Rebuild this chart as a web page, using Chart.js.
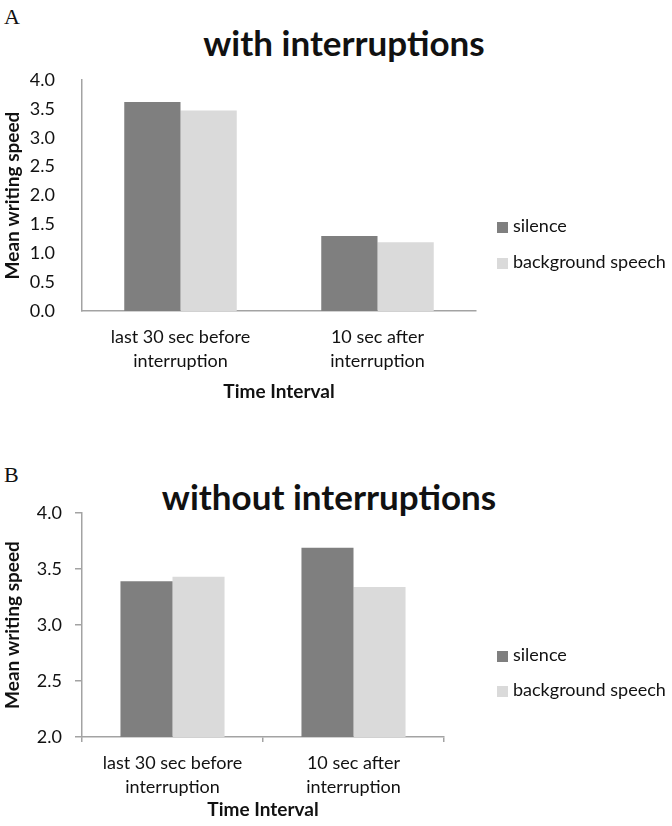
<!DOCTYPE html>
<html>
<head>
<meta charset="utf-8">
<script src="https://cdn.jsdelivr.net/npm/chart.js@4.4.1/dist/chart.umd.min.js"></script>
<style>
  html, body { margin: 0; padding: 0; background: #fff; }
  body { width: 672px; height: 826px; position: relative; overflow: hidden; font-family: Lato, sans-serif; color: #111; }
  .panel { position: absolute; left: 0; width: 672px; }
  .letter { position: absolute; left: 4px; font-family: 'Liberation Serif', serif; font-size: 22px; line-height: 1; }
  .title { position: absolute; font-weight: bold; font-size: 35px; line-height: 1; white-space: nowrap; transform: translateX(-50%); }
  .legend { position: absolute; left: 497px; font-size: 18px; color: #111; }
  .legend div { position: absolute; white-space: nowrap; line-height: 1; }
  .legend span { display: inline-block; width: 11px; height: 11px; margin-right: 5px; vertical-align: -1px; }
</style>
</head>
<body>
<div class="letter" style="top:6px;">A</div>
<div class="title" style="left:344px; top:25px;">with interruptions</div>
<div class="panel" style="top:0; height:405px;"><canvas id="chartA"></canvas></div>
<div class="legend" id="legendA" style="top:216px;"></div>

<div class="letter" style="top:464px;">B</div>
<div class="title" style="left:329px; top:479px;">without interruptions</div>
<div class="panel" style="top:405px; height:421px;"><canvas id="chartB"></canvas></div>
<div class="legend" id="legendB" style="top:645px;"></div>

<script>
/* ─── Data ───────────────────────────────────────────────── */
const CATEGORIES   = [['last 30 sec before', 'interruption'], ['10 sec after', 'interruption']];
const SERIES_NAMES = ['silence', 'background speech'];
const SERIES_COLORS = ['#7f7f7f', '#dadada'];

const A_SILENCE    = [3.62, 1.30];
const A_BACKGROUND = [3.47, 1.19];
const A_TICKS      = { min: 0, max: 4, step: 0.5 };

const B_SILENCE    = [3.39, 3.69];
const B_BACKGROUND = [3.43, 3.34];
const B_TICKS      = { min: 2, max: 4, step: 0.5 };

/* ─── Shared styles ──────────────────────────────────────── */
const FONT = 'Lato, sans-serif';
const AXIS_COLOR = '#a3a3a3';
const TEXT_COLOR = '#111';

function buildDatasets(silence, background, pct) {
  return [silence, background].map((d, i) => ({
    label: SERIES_NAMES[i],
    data: d,
    backgroundColor: SERIES_COLORS[i],
    borderWidth: 0,
    categoryPercentage: pct,
    barPercentage: 1
  }));
}

function makeChart(id, opts) {
  return new Chart(document.getElementById(id), {
    type: 'bar',
    data: { labels: CATEGORIES, datasets: buildDatasets(opts.silence, opts.background, opts.pct) },
    options: {
      responsive: true,
      maintainAspectRatio: false,
      animation: false,
      layout: { padding: { top: opts.top, right: opts.right, left: 0, bottom: 0 } },
      plugins: { legend: { display: false }, title: { display: false }, tooltip: { enabled: false } },
      scales: {
        x: {
          afterFit: s => { s.height = opts.xHeight; },
          grid: { display: opts.ticks, drawOnChartArea: false, offset: true, tickLength: 5, color: AXIS_COLOR, lineWidth: 1.5 },
          border: { display: true, color: AXIS_COLOR, width: 1.5 },
          ticks: { color: TEXT_COLOR, padding: 9, font: { family: FONT, size: 18, lineHeight: 1.33 }, maxRotation: 0 },
          title: { display: true, text: 'Time Interval', color: TEXT_COLOR, font: { family: FONT, size: 19, weight: 'bold' }, padding: { top: 4, bottom: opts.xTitleBottom } }
        },
        y: {
          min: opts.range.min,
          max: opts.range.max,
          afterFit: s => { s.width = 82; },
          grid: { display: opts.ticks, drawOnChartArea: false, tickLength: 7, color: AXIS_COLOR, lineWidth: 1.5 },
          border: { display: true, color: AXIS_COLOR, width: 1.5 },
          ticks: {
            stepSize: opts.range.step,
            padding: opts.ticks ? 13 : 20,
            color: TEXT_COLOR,
            font: { family: FONT, size: 18 },
            callback: v => v.toFixed(1)
          },
          title: { display: true, text: 'Mean writing speed', color: TEXT_COLOR, font: { family: FONT, size: 19, weight: 'bold' }, padding: { top: 1, bottom: 0 } }
        }
      }
    }
  });
}

function renderLegend(id, gap) {
  const el = document.getElementById(id);
  el.innerHTML = SERIES_NAMES.map((name, i) =>
    `<div style="top:${i * gap}px;"><span style="background:${SERIES_COLORS[i]};"></span>${name}</div>`
  ).join('');
}

/* ─── Init ───────────────────────────────────────────────── */
makeChart('chartA', { silence: A_SILENCE, background: A_BACKGROUND, range: A_TICKS, pct: 0.571, ticks: false, top: 80, right: 196, xHeight: 94, xTitleBottom: 2 });
makeChart('chartB', { silence: B_SILENCE, background: B_BACKGROUND, range: B_TICKS, pct: 0.575, ticks: true, top: 108, right: 228, xHeight: 89, xTitleBottom: 5 });
renderLegend('legendA', 36);
renderLegend('legendB', 35);
</script>
</body>
</html>
